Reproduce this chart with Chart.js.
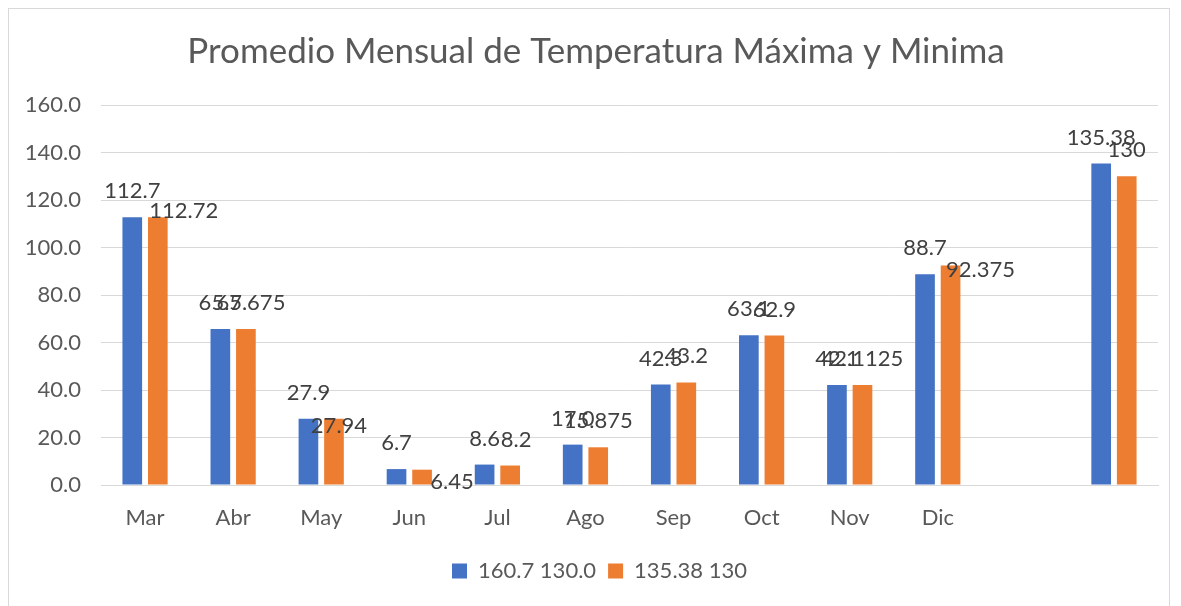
<!DOCTYPE html>
<html>
<head>
<meta charset="utf-8">
<script src="https://cdn.jsdelivr.net/npm/chart.js@4"></script>
<style>
  html, body { margin: 0; padding: 0; background: #ffffff; overflow: hidden; }
  #frame {
    position: absolute; left: 8px; top: 8px;
    width: 1162px; height: 610px;
    border: 1px solid #d9d9d9; box-sizing: border-box;
  }
  #wrap { position: absolute; left: 0; top: 0; width: 1160px; height: 598px; }
</style>
</head>
<body>
<div id="frame"><div id="wrap"><canvas id="myChart"></canvas></div></div>
<script>
// categories (11th slot is empty, 12th has no label)
var months = ['Mar', 'Abr', 'May', 'Jun', 'Jul', 'Ago', 'Sep', 'Oct', 'Nov', 'Dic', '', ''];

// series values
var serieMax = [112.7, 65.7, 27.9, 6.7, 8.6, 17.0, 42.3, 63.1, 42.1, 88.7, null, 135.38];
var serieMin = [112.72, 65.675, 27.94, 6.45, 8.2, 15.875, 43.2, 62.9, 42.1125, 92.375, null, 130];

// legend names
var serieNames = ['160.7 130.0', '135.38 130'];

// y axis ticks
var yMin = 0, yMax = 160, yStep = 20;

// label nudges for the orange series (Excel moved some of them)
var minLabelShift = [[26, 20], [5, 0], [5, 33], [30, 38], [6, 0], [0, 0], [0, 0], [0, 0], [0, 0], [30, 30], [0, 0], [0, 0]];

var FONT = 'Lato';

function fmt(v) {
  var s = String(v);
  if (s.indexOf('.') < 0) s = v.toFixed(1);
  return s;
}

// simple data labels, drawn above each bar
var barLabels = {
  id: 'barLabels',
  afterLayout: function(chart) {
    // Excel centres title and legend a bit more to the right
    if (chart.titleBlock) chart.titleBlock.left += 15;
    if (chart.legend) chart.legend.left += 22;
  },
  afterDatasetsDraw: function(chart) {
    var ctx = chart.ctx;
    ctx.save();
    ctx.font = '22px ' + FONT;
    ctx.fillStyle = '#404040';
    ctx.textAlign = 'center';
    ctx.textBaseline = 'middle';
    chart.data.datasets.forEach(function(ds, di) {
      var meta = chart.getDatasetMeta(di);
      meta.data.forEach(function(bar, i) {
        var v = ds.data[i];
        if (v === null || v === undefined) return;
        var dx = 0, dy = 0;
        if (di === 1) { dx = minLabelShift[i][0]; dy = minLabelShift[i][1]; }
        var txt = di === 0 ? fmt(v) : String(v);
        ctx.fillText(txt, bar.x + dx, bar.y - 26 + dy);
      });
    });
    ctx.restore();
  }
};

var ctx = document.getElementById('myChart').getContext('2d');

var myChart = new Chart(ctx, {
  type: 'bar',
  data: {
    labels: months,
    datasets: [{
      label: serieNames[0],
      data: serieMax,
      backgroundColor: '#4472C4',
      categoryPercentage: 0.58,
      barPercentage: 0.77
    }, {
      label: serieNames[1],
      data: serieMin,
      backgroundColor: '#ED7D31',
      categoryPercentage: 0.58,
      barPercentage: 0.77
    }]
  },
  options: {
    responsive: true,
    maintainAspectRatio: false,
    animation: false,
    layout: {
      padding: { left: 10, right: 11, top: 22, bottom: 15 }
    },
    scales: {
      y: {
        min: yMin,
        max: yMax,
        afterFit: function(scale) { scale.width = 82; },
        ticks: {
          stepSize: yStep,
          color: '#595959',
          font: { family: FONT, size: 22 },
          padding: 20,
          callback: function(v) { return v.toFixed(1); }
        },
        grid: { color: '#d9d9d9', drawTicks: false },
        border: { display: false }
      },
      x: {
        afterFit: function(scale) { scale.height = 63; },
        ticks: {
          color: '#595959',
          font: { family: FONT, size: 22 },
          padding: 20,
          autoSkip: false,
          maxRotation: 0
        },
        grid: { display: false, drawTicks: false },
        border: { color: '#d9d9d9' }
      }
    },
    plugins: {
      title: {
        display: true,
        text: 'Promedio Mensual de Temperatura Máxima y Minima',
        color: '#595959',
        font: { family: FONT, size: 35, weight: 'normal' },
        padding: { top: 0, bottom: 32 }
      },
      legend: {
        position: 'bottom',
        labels: {
          color: '#595959',
          font: { family: FONT, size: 22 },
          boxWidth: 15,
          boxHeight: 15,
          padding: 12
        }
      },
      tooltip: { enabled: false }
    }
  },
  plugins: [barLabels]
});
</script>
</body>
</html>
